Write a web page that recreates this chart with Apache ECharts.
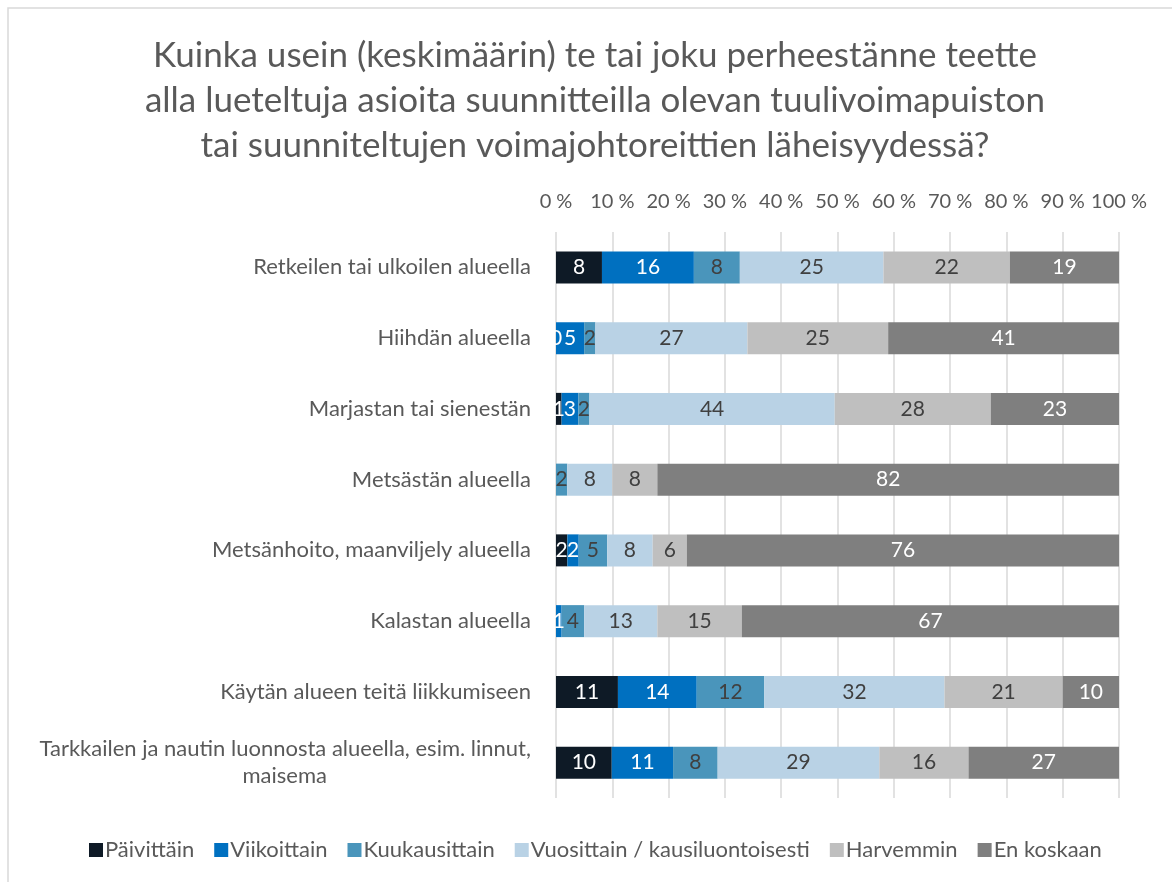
<!DOCTYPE html>
<html>
<head>
<meta charset="utf-8">
<script src="https://cdn.jsdelivr.net/npm/echarts@6/dist/echarts.min.js"></script>
<style>
  html, body { margin: 0; padding: 0; background: #fff; }
  #chart { width: 1172px; height: 882px; }
</style>
</head>
<body>
<div id="chart"></div>
<script>
// kategoriat ylhäältä alas
const categories = [
  'Retkeilen tai ulkoilen alueella',
  'Hiihdän alueella',
  'Marjastan tai sienestän',
  'Metsästän alueella',
  'Metsänhoito, maanviljely alueella',
  'Kalastan alueella',
  'Käytän alueen teitä liikkumiseen',
  'Tarkkailen ja nautin luonnosta alueella, esim. linnut,\nmaisema'
];
const seriesNames = ['Päivittäin', 'Viikoittain', 'Kuukausittain', 'Vuosittain / kausiluontoisesti', 'Harvemmin', 'En koskaan'];
const paivittain    = [8, 0, 1, null, 2, null, 11, 10];
const viikoittain   = [16, 5, 3, null, 2, 1, 14, 11];
const kuukausittain = [8, 2, 2, 2, 5, 4, 12, 8];
const vuosittain    = [25, 27, 44, 8, 8, 13, 32, 29];
const harvemmin     = [22, 25, 28, 8, 6, 15, 21, 16];
const enKoskaan     = [19, 41, 23, 82, 76, 67, 10, 27];
const xTicks = ['0 %', '10 %', '20 %', '30 %', '40 %', '50 %', '60 %', '70 %', '80 %', '90 %', '100 %'];

const colors = ['#0e1a26', '#0070c0', '#4a95bb', '#b9d2e5', '#bfbfbf', '#7f7f7f'];
const labelColors = ['#fff', '#fff', '#404040', '#404040', '#404040', '#fff'];
const raw = [paivittain, viikoittain, kuukausittain, vuosittain, harvemmin, enKoskaan];

// 100 % pinottu: skaalataan rivit summaan 100
const rowSums = categories.map((c, i) => raw.reduce((s, arr) => s + (arr[i] || 0), 0));

let myChart = echarts.init(document.getElementById('chart'));
let option = {
  backgroundColor: '#fff',
  textStyle: { fontFamily: 'Lato, sans-serif' },
  graphic: [{
    type: 'rect',
    shape: { x: 8, y: 8, width: 1300, height: 1000 },
    style: { fill: 'none', stroke: '#d9d9d9', lineWidth: 1.5 },
    silent: true
  }],
  title: {
    text: 'Kuinka usein (keskimäärin) te tai joku perheestänne teette\nalla lueteltuja asioita suunnitteilla olevan tuulivoimapuiston\ntai suunniteltujen voimajohtoreittien läheisyydessä?',
    left: 590,
    textAlign: 'center',
    top: 28,
    textStyle: { fontSize: 35, fontWeight: 'normal', color: '#595959', lineHeight: 45, fontFamily: 'Lato, sans-serif' }
  },
  legend: {
    data: seriesNames,
    bottom: 16,
    left: 84,
    itemWidth: 14,
    itemHeight: 14,
    itemGap: 20,
    icon: 'rect',
    textStyle: { fontSize: 22, color: '#595959', padding: [0, 0, 0, -3] }
  },
  grid: { left: 556, right: 53, top: 232, bottom: 84 },
  xAxis: {
    type: 'value',
    position: 'top',
    min: 0,
    max: 100,
    interval: 10,
    axisLine: { show: false },
    axisTick: { show: false },
    splitLine: { lineStyle: { color: '#d9d9d9', width: 1.5 } },
    axisLabel: {
      fontSize: 20,
      color: '#595959',
      margin: 20,
      formatter: (v) => xTicks[Math.round(v / 10)]
    }
  },
  yAxis: {
    type: 'category',
    data: categories,
    inverse: true,
    axisLine: { show: false },
    axisTick: { show: false },
    axisLabel: {
      fontSize: 22,
      color: '#595959',
      margin: 25,
      lineHeight: 27,
      // kaksirivinen otsikko: toinen rivi keskelle
      formatter: (v) => {
        if (v.indexOf('\n') < 0) return v;
        const parts = v.split('\n');
        return '{a|' + parts[0] + '}\n{b|' + parts[1] + '}';
      },
      rich: {
        a: { fontSize: 22, color: '#595959', lineHeight: 27 },
        b: { fontSize: 22, color: '#595959', lineHeight: 27, padding: [0, 204, 0, 0] }
      }
    }
  },
  series: raw.map((arr, si) => ({
    name: seriesNames[si],
    type: 'bar',
    stack: 'total',
    barWidth: 32,
    itemStyle: { color: colors[si] },
    label: {
      show: true,
      position: 'inside',
      fontSize: 21,
      color: labelColors[si],
      formatter: (p) => String(arr[p.dataIndex])
    },
    data: arr.map((v, i) => v === null ? null : v / rowSums[i] * 100)
  }))
};
myChart.setOption(option);
window.addEventListener('resize', function () {
  myChart.resize();
});
</script>
</body>
</html>
